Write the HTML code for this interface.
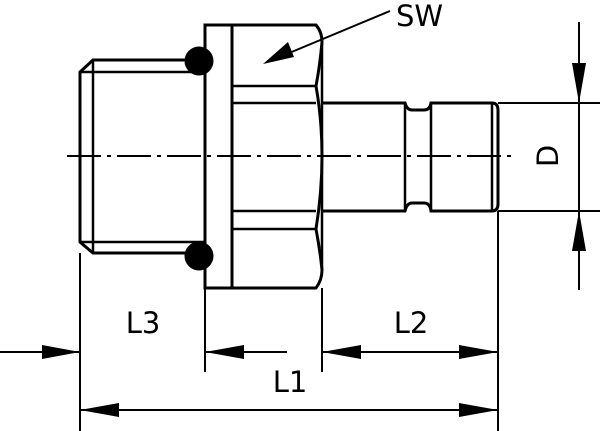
<!DOCTYPE html>
<html><head><style>html,body{margin:0;padding:0;background:#fff}svg{display:block}</style></head><body>
<svg width="600" height="431" viewBox="0 0 600 431" xmlns="http://www.w3.org/2000/svg">
<g fill="none" stroke="#000" stroke-width="3">
<path d="M205,60 H93 L80,72 V242 L93,253 H205"/>
<path d="M93,60 V253 M80,72 H205 M80,242 H205" stroke-width="2.5"/>
<rect x="205" y="25" width="27" height="263"/>
<path d="M232,25 H316 Q322,32 322,42 Q320,65 316,86 Q322,120 322,156 Q322,192 316,229 Q320,250 322,270 Q322,280 316,288 H232"/>
<path d="M232,86 H316 M232,103 H316 M232,211 H316 M232,229 H316" stroke-width="2.5"/>
<path d="M322,42 V270" stroke-width="2.5"/>
<path d="M322,103 H405 Q407,110 412,110 H424 Q430,110 431,103 H492 Q498,103 498,110 V204 Q498,211 492,211 H431 Q430,203 424,203 H412 Q407,203 405,211 H322"/>
<path d="M405,103 V211 M431,103 V211 M492,103 V211" stroke-width="2.5"/>
</g>
<circle cx="199" cy="61" r="14.5"/>
<circle cx="199" cy="256" r="14.5"/>
<path d="M67,156 H512" stroke="#000" stroke-width="2" stroke-dasharray="34,6,4,6"/>
<g stroke="#000" stroke-width="2" fill="none">
<path d="M498,103 H600 M498,211 H600 M579,22 V290"/>
<path d="M80,253 V431 M205,288 V372 M322,288 V372 M498,211 V431"/>
<path d="M0,352 H80 M205,352 H287"/>
<path d="M322,352 H498"/>
<path d="M80,410 H498"/>
<path d="M390,11 L270,61"/>
</g>
<g fill="#000">
<path d="M80,352 L42,345 L42,359Z"/>
<path d="M205,352 L244,345 L244,359Z"/>
<path d="M322,352 L361,345 L361,359Z"/>
<path d="M498,352 L459,345 L459,359Z"/>
<path d="M80,410 L119,403 L119,417Z"/>
<path d="M498,410 L459,403 L459,417Z"/>
<path d="M579,103 L572,63 L586,63Z"/>
<path d="M579,211 L572,251 L586,251Z"/>
<path d="M263,64 L288,42 L294,57Z"/>
</g>
<g font-family="DejaVu Sans, sans-serif" font-size="29" fill="#000">
<text x="396" y="26">SW</text>
<text x="143" y="333" text-anchor="middle">L3</text>
<text x="411" y="333" text-anchor="middle">L2</text>
<text x="290" y="392" text-anchor="middle">L1</text>
<text x="0" y="0" text-anchor="middle" transform="translate(558,156) rotate(-90)">D</text>
</g>
</svg>
</body></html>
